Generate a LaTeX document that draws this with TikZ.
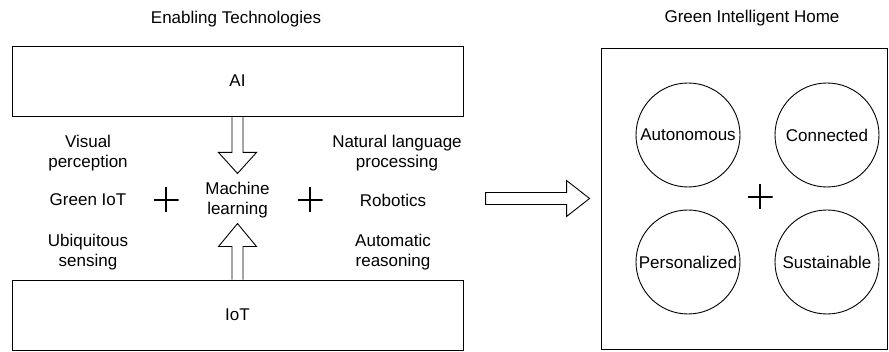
\documentclass[tikz,border=0pt]{standalone}
\usepackage{fontspec}
\setmainfont{Liberation Sans}
\usetikzlibrary{calc}

\begin{document}
\begin{tikzpicture}[x=1pt,y=-1pt,
	every node/.style={font=\fontsize{17}{20}\selectfont,align=center},
	block/.style={draw,line width=0.9pt,inner sep=0},
	goal/.style={draw,circle,line width=0.9pt,inner sep=0,minimum size=104pt},
	hollow/.style={draw,line width=0.9pt,line join=miter},
	plussign/.style={minimum size=25pt,inner sep=0,path picture={
		\draw[line width=1.6pt] (path picture bounding box.north) -- (path picture bounding box.south)
			(path picture bounding box.west) -- (path picture bounding box.east);}}]
	\useasboundingbox (0,0) rectangle (889,352);
	\node (T1) at (236,19) {Enabling Technologies};
	\node (T2) at (752,18) {Green Intelligent Home};
	\node[block,minimum width=451pt,minimum height=70pt] (AI) at (237.5,81) {AI};
	\node[block,minimum width=451pt,minimum height=70pt] (IoT) at (237.5,315) {IoT};
	\node (ML) at (237.5,200) {Machine\\learning};
	\node (VP) at (88,153) {Visual\\perception};
	\node (GI) at (88,200) {Green IoT};
	\node (US) at (88,252) {Ubiquitous\\sensing};
	\node (NL) at (397,153) {Natural language\\processing};
	\node (RB) at (393,200) {Robotics};
	\node (AR) at (393,252) {Automatic\\reasoning};
	\node[plussign] (P1) at (166,200) {};
	\node[plussign] (P2) at (310,200) {};
	\node[block,minimum width=286pt,minimum height=301pt] (home) at (744,198.5) {};
	\node[goal] (AU) at (688,135) {Autonomous};
	\node[goal] (CO) at (827,135) {Connected};
	\node[goal] (PE) at (688,262) {Personalized};
	\node[goal] (SU) at (827,262) {Sustainable};
	\node[plussign] (P3) at (760,197) {};
	\draw[hollow] ([xshift=-5.5pt]AI.south) -- ++(0,36) -- ++(-13.5,0) -- ++(19,21) -- ++(19,-21) -- ++(-13.5,0) -- ++(0,-36);
	\draw[hollow] ([xshift=-5.5pt]IoT.north) -- ++(0,-33) -- ++(-13.5,0) -- ++(19,-23) -- ++(19,23) -- ++(-13.5,0) -- ++(0,33);
	\draw[hollow] ([xshift=-11pt]home.west) -- ++(-23,-18) -- ++(0,12) -- ++(-81,0) -- ++(0,12) -- ++(81,0) -- ++(0,12) -- cycle;
\end{tikzpicture}
\end{document}
